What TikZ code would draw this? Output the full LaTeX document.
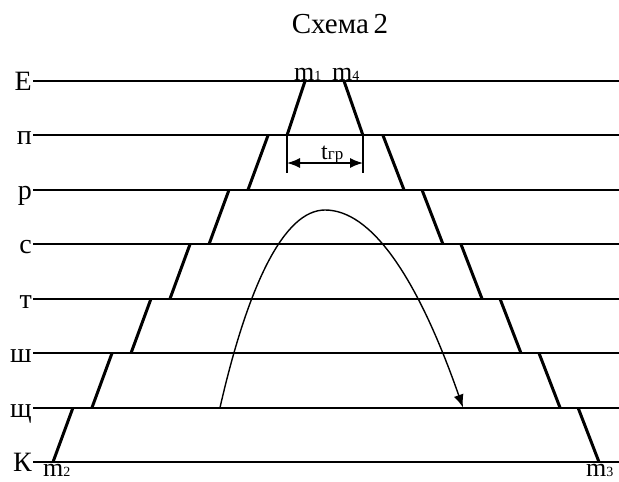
\documentclass[tikz,border=0pt]{standalone}
\usepackage{fontspec}
\setmainfont{Liberation Serif}
\usetikzlibrary{arrows.meta}
\newcommand{\lowtxt}[2][13]{{\fontsize{#1}{#1}\selectfont #2}}

\begin{document}
\begin{tikzpicture}[>=Latex,x=1pt,y=-1pt,
  lvl/.style={line width=1.9pt},
  slant/.style={line width=3pt},
  lbl/.style={anchor=base east,inner sep=0pt,font=\fontsize{28}{28}\selectfont},
  mlbl/.style={anchor=base west,inner sep=0pt,font=\fontsize{26}{26}\selectfont}]
\useasboundingbox (0,0) rectangle (619,482);
\node[anchor=base,inner sep=0pt,font=\fontsize{29}{29}\selectfont] (title) at (340,33) {Схема\,2};
\foreach \i/\t in {0/Е,1/п,2/р,3/с,4/т,5/ш,6/щ,7/К}{
  \coordinate (a\i) at (33,{81+54.43*\i});
  \coordinate (b\i) at (619,{81+54.43*\i});
  \draw[lvl] (a\i) -- (b\i);
  \node[lbl] (n\i) at (32,{90.5+54.43*\i}) {\t};
}
\draw[slant] (305,81) -- (287,135.43) (344,81) -- (363,135.43);
\foreach \i in {1,...,6}
  \draw[slant] ({268-39*(\i-1)},{81+54.43*\i}) -- ({248-39*(\i-1)},{81+54.43*(\i+1)})
               ({383+39*(\i-1)},{81+54.43*\i}) -- ({404+39*(\i-1)},{81+54.43*(\i+1)});
\node[mlbl] (m1) at (294,80) {m\lowtxt[14]{1}};
\node[mlbl] (m4) at (332,80) {m\lowtxt[14]{4}};
\node[mlbl] (m2) at (43,476) {m\lowtxt[14]{2}};
\node[mlbl] (m3) at (586,476) {m\lowtxt[14]{3}};
\coordinate (tl) at (287,163);
\coordinate (tr) at (363,163);
\draw[line width=1.5pt] (287,135.43) -- (287,173) (363,135.43) -- (363,173);
\draw[{Latex[length=13pt,width=10pt]}-{Latex[length=13pt,width=10pt]},line width=1.5pt] (tl) -- (tr);
\node[anchor=base west,inner sep=0pt,font=\fontsize{24}{24}\selectfont] (tgr) at (321,159) {t\lowtxt[17]{гр}};
\coordinate (arcL) at (220,407.58);
\coordinate (arcT) at (325,210);
\coordinate (arcR) at (463,407.58);
\draw[-{Latex[length=13pt,width=10pt]},line width=1.4pt] (arcL) .. controls (248,285) and (284,210) .. (arcT)
  .. controls (371,210) and (417,276) .. (arcR);
\end{tikzpicture}
\end{document}
